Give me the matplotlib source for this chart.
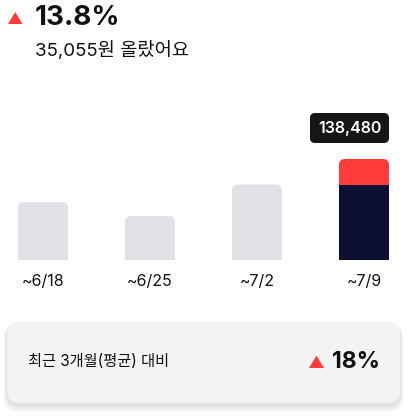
import matplotlib

matplotlib.use("Agg")
import matplotlib.pyplot as plt
from matplotlib.patches import FancyBboxPatch, Polygon

plt.rcParams["font.family"] = ["Inter", "Noto Sans CJK KR", "DejaVu Sans"]

# data
weeks = ["~6/18", "~6/25", "~7/2", "~7/9"]
amounts = [79500, 60300, 103425, 138480]
last_base = 103425  # navy part of the current week
change_pct = "13.8%"
change_won = "35,055원 올랐어요"
avg_label = "최근 3개월(평균) 대비"
avg_pct = "18%"

W, H = 415, 418
GREY = "#e1e2e7"
NAVY = "#0c0f33"
RED = "#ff3b3b"

fig = plt.figure(figsize=(W / 100, H / 100), dpi=100, facecolor="white")

# overlay in pixel coords (y down)
bg = fig.add_axes([0, 0, 1, 1])
bg.set_xlim(0, W)
bg.set_ylim(H, 0)
bg.axis("off")

# --- bar chart: baseline at y=260px, top at y=100px
base_px, top_px = 260, 100
ax = fig.add_axes([0, (H - base_px) / H, 1, (base_px - top_px) / H])
ax.axis("off")
per_px = 1371.0  # won per pixel
x_per_px = 1 / 107.0
ax.set_xlim(-43 * x_per_px, (W - 43) * x_per_px)
ax.set_ylim(0, (base_px - top_px) * per_px)
bw = 50 * x_per_px
bars = ax.bar(range(len(weeks)), amounts, width=bw, color="none")
aspect = per_px / x_per_px
for i, b in enumerate(bars):
    col = RED if i == len(weeks) - 1 else GREY
    p = FancyBboxPatch((b.get_x(), -20 * per_px), b.get_width(), b.get_height() + 20 * per_px,
                       boxstyle=f"round,pad=0,rounding_size={6 * x_per_px}",
                       mutation_aspect=aspect, fc=col, ec="none")
    ax.add_patch(p)
ax.bar(len(weeks) - 1, last_base, width=bw, color=NAVY)

for i, w in enumerate(weeks):
    bg.text(43 + 107 * i, 282, w, ha="center", va="center", fontsize=11.5, color="#111111")

# value tag over the last bar
tag_l, tag_r = 310, 389
bg.add_patch(FancyBboxPatch((tag_l, 113), tag_r - tag_l, 30, boxstyle="round,pad=0,rounding_size=5",
                            fc="#161616", ec="none"))
bg.text((tag_l + tag_r) / 2, 128.5, f"{amounts[-1]:,}", ha="center", va="center",
        fontsize=11.5, color="white", fontweight="semibold")

# --- header
bg.add_patch(Polygon([[8, 24], [22.5, 24], [15.25, 12]], closed=True, fc=RED, ec="none"))
bg.text(35, 18, change_pct, ha="left", va="center", fontsize=20, fontweight="bold", color="#111111")
bg.text(35, 51, change_won, ha="left", va="center", fontsize=13.5, color="#111111")

# --- card with soft shadow
for k, a in enumerate([0.035, 0.03, 0.025, 0.02]):
    s = 2 + k * 2
    bg.add_patch(FancyBboxPatch((7 - s / 2, 322 + 2), 393 + s, 81 + s, boxstyle=f"round,pad=0,rounding_size={12 + s / 2}",
                                fc="black", ec="none", alpha=a))
bg.add_patch(FancyBboxPatch((7, 322), 393, 81, boxstyle="round,pad=0,rounding_size=12",
                            fc="#f2f3f5", ec="none"))
bg.text(28, 361, avg_label, ha="left", va="center", fontsize=11, color="#111111")
bg.add_patch(Polygon([[309, 368], [324, 368], [316.5, 355.5]], closed=True, fc=RED, ec="none"))
bg.text(332, 362, avg_pct, ha="left", va="center", fontsize=16.5, fontweight="bold", color="#111111")

fig.savefig("out.png", dpi=100, facecolor="white")
